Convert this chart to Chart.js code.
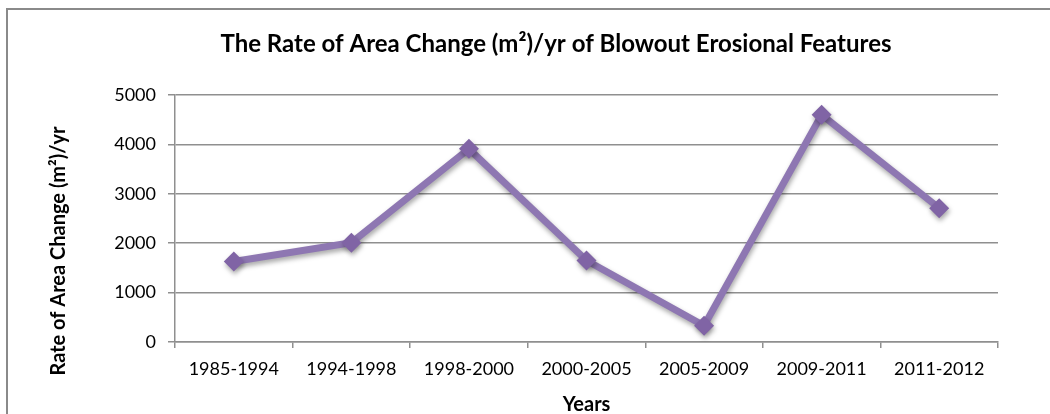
<!DOCTYPE html>
<html>
<head>
<meta charset="utf-8">
<script src="https://cdn.jsdelivr.net/npm/chart.js@4.4.1/dist/chart.umd.min.js"></script>
<style>
  html, body { margin: 0; padding: 0; background: #fff; overflow: hidden; }
  #wrap { position: relative; width: 1050px; height: 414px; }
  #frame { position: absolute; left: 6px; top: 8px; width: 1100px; height: 500px;
           border: 2px solid #8a8a8a; box-sizing: border-box; }
  canvas { position: absolute; left: 0; top: 0; }
</style>
</head>
<body>
<div id="wrap">
  <div id="frame"></div>
  <canvas id="c" width="1050" height="414"></canvas>
</div>
<script>
// Study periods and the rate of blowout area change for each
const periods = ['1985-1994', '1994-1998', '1998-2000', '2000-2005', '2005-2009', '2009-2011', '2011-2012'];
const rateOfChange = [1630, 2010, 3910, 1650, 330, 4600, 2710];
const yTicks = [0, 1000, 2000, 3000, 4000, 5000];

const chartTitle = 'The Rate of Area Change (m\u00B2)/yr of Blowout Erosional Features';
const yTitle = 'Rate of Area Change (m\u00B2)/yr';
const xTitle = 'Years';

const FONT = 'Lato, "Open Sans", sans-serif';
const GRID = '#8f8f8f';
const PURPLE = 'rgb(142,119,178)';
const PURPLE_DARK = 'rgb(128,100,165)';

// Soft drop shadow under the series, plus the chart and y-axis titles
const decorations = {
  id: 'decorations',
  beforeDatasetsDraw(chart) {
    const ctx = chart.ctx;
    ctx.save();
    ctx.shadowColor = 'rgba(0,0,0,0.35)';
    ctx.shadowBlur = 5;
    ctx.shadowOffsetX = 1;
    ctx.shadowOffsetY = 3;
  },
  afterDatasetsDraw(chart) {
    chart.ctx.restore();
  },
  afterDraw(chart) {
    const ctx = chart.ctx;
    ctx.save();
    ctx.fillStyle = '#000';
    ctx.textAlign = 'center';
    ctx.textBaseline = 'middle';
    ctx.font = 'bold 24px ' + FONT;
    ctx.fillText(chartTitle, 556, 44);
    ctx.translate(59, 251);
    ctx.rotate(-Math.PI / 2);
    ctx.font = 'bold 20px ' + FONT;
    ctx.fillText(yTitle, 0, 0);
    ctx.restore();
  }
};

new Chart(document.getElementById('c'), {
  type: 'line',
  data: {
    labels: periods,
    datasets: [{
      data: rateOfChange,
      borderColor: PURPLE,
      borderWidth: 7,
      backgroundColor: PURPLE_DARK,
      pointStyle: 'rectRot',
      pointRadius: 10,
      pointBorderWidth: 0,
      pointBorderColor: PURPLE_DARK,
      tension: 0,
      fill: false
    }]
  },
  options: {
    responsive: false,
    animation: false,
    devicePixelRatio: 1,
    layout: { padding: { left: 0, right: 52, top: 95, bottom: 0 } },
    plugins: { legend: { display: false }, tooltip: { enabled: false }, title: { display: false } },
    scales: {
      x: {
        type: 'category',
        offset: true,
        grid: { offset: true, drawOnChartArea: false, drawTicks: true, tickLength: 6, color: GRID, lineWidth: 1.5 },
        border: { color: GRID, width: 1.5 },
        ticks: { color: '#000', font: { family: FONT, size: 18 }, padding: 10, maxRotation: 0, autoSkip: false },
        title: { display: true, text: xTitle, color: '#000', font: { family: FONT, size: 20, weight: 'bold', lineHeight: 0.9 }, padding: { top: 0, bottom: 0 } },
        afterFit(scale) { scale.height = 72; }
      },
      y: {
        min: 0,
        max: 5000,
        afterBuildTicks(scale) { scale.ticks = yTicks.map(v => ({ value: v })); },
        grid: { drawOnChartArea: true, drawTicks: true, tickLength: 7, color: GRID, lineWidth: 1.5 },
        border: { color: GRID, width: 1.5 },
        ticks: { color: '#000', font: { family: FONT, size: 18 }, padding: 12, callback: v => String(v) },
        afterFit(scale) { scale.width = 175; }
      }
    }
  },
  plugins: [decorations]
});
</script>
</body>
</html>
